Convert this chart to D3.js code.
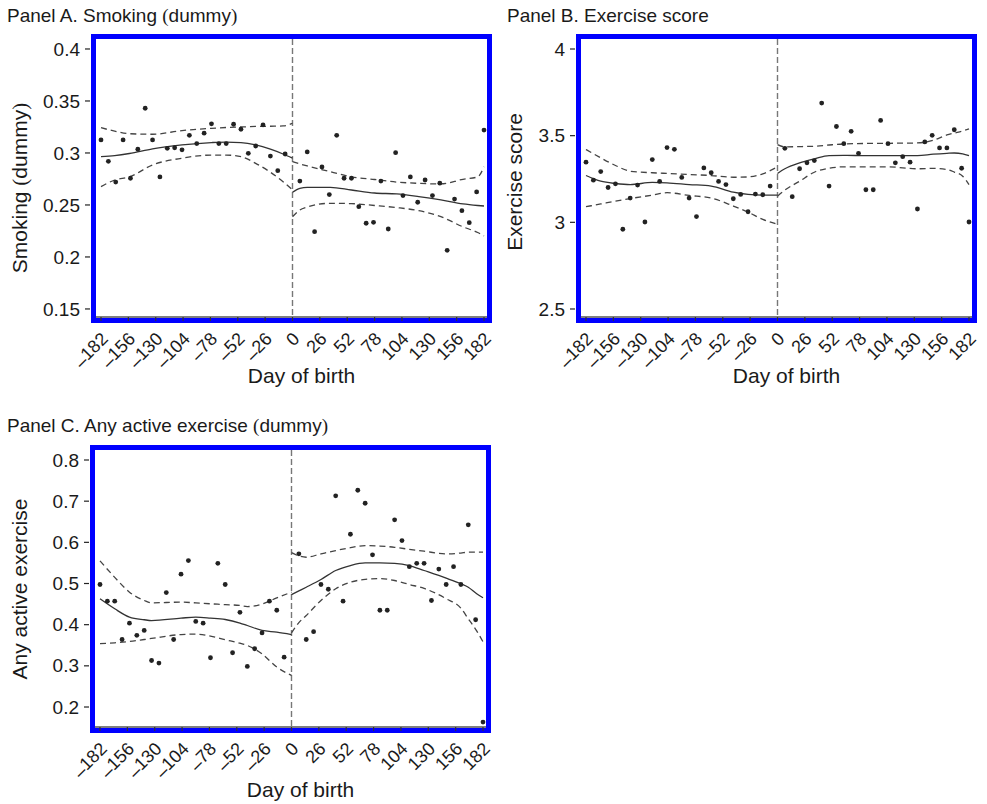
<!DOCTYPE html>
<html>
<head>
<meta charset="utf-8">
<script src="https://cdn.jsdelivr.net/npm/d3@7"></script>
<style>
  body { margin: 0; background: #fff; }
  text { font-family: "Liberation Sans", Arial, Helvetica, sans-serif; fill: #1a1a1a; }
</style>
</head>
<body>
<div id="chart"></div>
<script>
// bins of one week on each side of the cutoff
var daysLeft = [-182, -175, -168, -161, -154, -147, -140, -133, -126, -119, -112, -105, -98,
  -91, -84, -77, -70, -63, -56, -49, -42, -35, -28, -21, -14, -7];
var daysRight = [7, 14, 21, 28, 35, 42, 49, 56, 63, 70, 77, 84, 91,
  98, 105, 112, 119, 126, 133, 140, 147, 154, 161, 168, 175, 182];
var dayTicks = [-182, -156, -130, -104, -78, -52, -26, 0, 26, 52, 78, 104, 130, 156, 182];

// Panel A: smoking
var smokingLeft = [0.3125, 0.292, 0.272, 0.3125, 0.2757, 0.3036, 0.343, 0.3125, 0.277, 0.3045, 0.305, 0.303, 0.317,
  0.309, 0.319, 0.328, 0.309, 0.309, 0.3276, 0.3228, 0.2997, 0.3067, 0.327, 0.297, 0.283, 0.299];
var smokingRight = [0.273, 0.301, 0.2243, 0.2865, 0.260, 0.317, 0.2757, 0.2757, 0.2484, 0.2324, 0.2333, 0.273, 0.2269,
  0.3003, 0.259, 0.277, 0.2526, 0.274, 0.259, 0.271, 0.2064, 0.2557, 0.2445, 0.233, 0.2625, 0.322];
var smokingFitDaysL = [-182, -169, -155, -133, -105, -77, -63, -49, -35, -21, -9, 0];
var smokingFitL = [0.2965, 0.2975, 0.2995, 0.304, 0.3077, 0.310, 0.3105, 0.310, 0.3077, 0.3036, 0.299, 0.295];
var smokingHiL = [0.3243, 0.321, 0.3185, 0.318, 0.3215, 0.3237, 0.3245, 0.325, 0.3255, 0.3257, 0.326, 0.3285];
var smokingLoL = [0.2676, 0.274, 0.277, 0.2885, 0.295, 0.298, 0.298, 0.2965, 0.290, 0.2815, 0.2724, 0.2644];
var smokingFitDaysR = [0, 7, 14, 36, 56, 78, 99, 120, 141, 162, 176, 182];
var smokingFitR = [0.2622, 0.266, 0.267, 0.267, 0.2644, 0.2615, 0.2606, 0.258, 0.2548, 0.251, 0.2495, 0.249];
var smokingHiR = [0.2917, 0.2895, 0.2875, 0.282, 0.277, 0.2745, 0.272, 0.2708, 0.2702, 0.2747, 0.277, 0.2868];
var smokingLoR = [0.2387, 0.2452, 0.248, 0.2516, 0.2513, 0.2495, 0.2475, 0.2445, 0.2387, 0.229, 0.2235, 0.2202];
var smokingTicks = [0.15, 0.2, 0.25, 0.3, 0.35, 0.4];

// Panel B: exercise score
var exerciseLeft = [3.347, 3.243, 3.293, 3.201, 3.222, 2.96, 3.14, 3.215, 3.002, 3.362, 3.236, 3.431, 3.421,
  3.259, 3.14, 3.033, 3.314, 3.286, 3.236, 3.218, 3.136, 3.161, 3.061, 3.163, 3.159, 3.209];
var exerciseRight = [3.427, 3.148, 3.309, 3.343, 3.356, 3.688, 3.209, 3.553, 3.454, 3.525, 3.398, 3.188, 3.188,
  3.588, 3.454, 3.343, 3.379, 3.347, 3.077, 3.464, 3.502, 3.429, 3.429, 3.534, 3.312, 3.002];
var exerciseFitDaysL = [-182, -168, -154, -140, -119, -105, -84, -63, -42, -28, -14, 0];
var exerciseFitL = [3.27, 3.237, 3.224, 3.218, 3.23, 3.228, 3.218, 3.209, 3.174, 3.161, 3.157, 3.157];
var exerciseHiL = [3.42, 3.372, 3.328, 3.295, 3.286, 3.282, 3.276, 3.27, 3.26, 3.262, 3.28, 3.32];
var exerciseLoL = [3.09, 3.106, 3.122, 3.137, 3.157, 3.171, 3.155, 3.14, 3.094, 3.059, 3.017, 2.989];
var exerciseFitDaysR = [0, 7, 21, 35, 49, 63, 84, 105, 133, 148, 161, 168, 176, 182];
var exerciseFitR = [3.282, 3.309, 3.343, 3.366, 3.385, 3.386, 3.385, 3.385, 3.385, 3.393, 3.398, 3.4, 3.395, 3.385];
var exerciseHiR = [3.448, 3.435, 3.437, 3.439, 3.446, 3.452, 3.455, 3.456, 3.458, 3.473, 3.504, 3.515, 3.527, 3.539];
var exerciseLoR = [3.151, 3.186, 3.237, 3.289, 3.312, 3.32, 3.32, 3.32, 3.309, 3.311, 3.305, 3.29, 3.266, 3.218];
var exerciseTicks = [2.5, 3, 3.5, 4];

// Panel C: any active exercise
var activeLeft = [0.4976, 0.457, 0.457, 0.364, 0.4036, 0.374, 0.386, 0.313, 0.3066, 0.478, 0.364, 0.5226, 0.5558,
  0.4078, 0.4036, 0.3197, 0.549, 0.4976, 0.3318, 0.430, 0.2985, 0.3415, 0.380, 0.457, 0.435, 0.321];
var activeRight = [0.572, 0.364, 0.383, 0.4976, 0.486, 0.713, 0.457, 0.6197, 0.7265, 0.695, 0.5696, 0.435, 0.435,
  0.6546, 0.6044, 0.541, 0.549, 0.549, 0.4587, 0.535, 0.4976, 0.541, 0.4976, 0.6425, 0.412, 0.1634];
var activeFitDaysL = [-182, -168, -154, -140, -133, -105, -91, -77, -63, -49, -42, -28, -14, 0];
var activeFitL = [0.4628, 0.4386, 0.4183, 0.412, 0.410, 0.4158, 0.4183, 0.416, 0.4126, 0.404, 0.398, 0.386, 0.3819, 0.376];
var activeHiL = [0.555, 0.515, 0.479, 0.4587, 0.453, 0.4547, 0.453, 0.4507, 0.4487, 0.4466, 0.444, 0.450, 0.465, 0.479];
var activeLoL = [0.354, 0.356, 0.3592, 0.364, 0.3665, 0.376, 0.377, 0.372, 0.3633, 0.355, 0.3495, 0.329, 0.297, 0.2767];
var activeFitDaysR = [0, 7, 14, 28, 42, 56, 70, 84, 98, 112, 126, 147, 161, 168, 176, 182];
var activeFitR = [0.473, 0.482, 0.491, 0.5097, 0.5316, 0.5437, 0.550, 0.550, 0.549, 0.5437, 0.5316, 0.5129, 0.4992, 0.491, 0.475, 0.4653];
var activeHiR = [0.575, 0.567, 0.5638, 0.572, 0.58, 0.587, 0.5922, 0.591, 0.588, 0.583, 0.5784, 0.572, 0.574, 0.576, 0.576, 0.576];
var activeLoR = [0.38, 0.405, 0.4223, 0.4587, 0.4871, 0.5032, 0.510, 0.512, 0.5073, 0.4976, 0.488, 0.463, 0.44, 0.4143, 0.385, 0.3584];
var activeTicks = [0.2, 0.3, 0.4, 0.5, 0.6, 0.7, 0.8];

(function () {

  var w = 987,
    h = 804,
    svg,
    blue = "#0000ff",
    serif = "'Liberation Serif', 'Times New Roman', serif";

  // one entry per panel, everything layout related lives here
  var panels = [
    { title: "Panel A. Smoking ", paren: "dummy", ylabel: "Smoking ", yparen: "dummy",
      tx: 7, ty: 22, left: 96, top: 39, bottom: 318, labelX: 20, labelY: 188, xlabY: 383,
      yDomain: [0.1413, 0.4096], yTicks: smokingTicks,
      ptsL: smokingLeft, ptsR: smokingRight,
      fitDaysL: smokingFitDaysL, fitL: smokingFitL, hiL: smokingHiL, loL: smokingLoL,
      fitDaysR: smokingFitDaysR, fitR: smokingFitR, hiR: smokingHiR, loR: smokingLoR },
    { title: "Panel B. Exercise score", paren: null, ylabel: "Exercise score", yparen: null,
      tx: 507, ty: 22, left: 581, top: 39, bottom: 318, labelX: 515, labelY: 182, xlabY: 383,
      yDomain: [2.448, 4.0577], yTicks: exerciseTicks,
      ptsL: exerciseLeft, ptsR: exerciseRight,
      fitDaysL: exerciseFitDaysL, fitL: exerciseFitL, hiL: exerciseHiL, loL: exerciseLoL,
      fitDaysR: exerciseFitDaysR, fitR: exerciseFitR, hiR: exerciseHiR, loR: exerciseLoR },
    { title: "Panel C. Any active exercise ", paren: "dummy", ylabel: "Any active exercise", yparen: null,
      tx: 7, ty: 432, left: 95, top: 450, bottom: 728, labelX: 20, labelY: 589, xlabY: 797,
      yDomain: [0.149, 0.8243], yTicks: activeTicks,
      ptsL: activeLeft, ptsR: activeRight,
      fitDaysL: activeFitDaysL, fitL: activeFitL, hiL: activeHiL, loL: activeLoL,
      fitDaysR: activeFitDaysR, fitR: activeFitR, hiR: activeHiR, loR: activeLoR }
  ];

  function createSvg() {
    svg = d3.select("#chart")
      .append("svg")
      .attr("width", w)
      .attr("height", h);
  }

  // parentheses in the labels are set in a serif face like in the journal figure
  function addLabel(sel, main, paren) {
    sel.append("tspan").text(main);
    if (paren) {
      sel.append("tspan").attr("font-family", serif).text("(");
      sel.append("tspan").text(paren);
      sel.append("tspan").attr("font-family", serif).text(")");
    }
  }

  function zip(days, vals) {
    return days.map(function (d, i) { return { day: d, v: vals[i] }; });
  }

  // negative ticks get a long dash sitting a bit low, as in the original
  function addDayLabel(sel, d) {
    if (d < 0) {
      sel.append("tspan").attr("dy", "0.12em").text("\u2013");
      sel.append("tspan").attr("dy", "-0.12em").text(Math.abs(d));
    } else {
      sel.text(d);
    }
  }

  function drawPanel(p) {
    var g = svg.append("g");
    var right = p.left + 391;
    var x = d3.scaleLinear().domain([-182, 182]).range([p.left + 5, p.left + 388]);
    var y = d3.scaleLinear().domain(p.yDomain).range([p.bottom, p.top]);

    // titles
    addLabel(g.append("text").attr("x", p.tx).attr("y", p.ty).style("font-size", "19px"), p.title, p.paren);

    var yl = g.append("text")
      .attr("transform", "translate(" + p.labelX + "," + p.labelY + ") rotate(-90)")
      .attr("text-anchor", "middle")
      .attr("dy", "0.35em")
      .style("font-size", "21px");
    addLabel(yl, p.ylabel, p.yparen);

    g.append("text")
      .attr("x", (p.left + right) / 2 + 10)
      .attr("y", p.xlabY)
      .attr("text-anchor", "middle")
      .style("font-size", "21px")
      .text("Day of birth");

    // y ticks sit outside the blue frame
    var yt = g.selectAll(".ytick").data(p.yTicks).enter().append("g")
      .attr("transform", function (d) { return "translate(0," + y(d) + ")"; });
    yt.append("line")
      .attr("x1", p.left - 11).attr("x2", p.left - 6)
      .attr("stroke", "#222").attr("stroke-width", 1.2);
    yt.append("text")
      .attr("x", p.left - 16)
      .attr("dy", "0.35em")
      .attr("text-anchor", "end")
      .style("font-size", "19px")
      .text(function (d) { return d3.format("~g")(d); });

    // bottom axis line
    g.append("line")
      .attr("x1", p.left).attr("x2", right)
      .attr("y1", p.bottom - 1).attr("y2", p.bottom - 1)
      .attr("stroke", "#555").attr("stroke-width", 1.5);

    // cutoff line
    g.append("line")
      .attr("x1", x(0)).attr("x2", x(0))
      .attr("y1", p.top).attr("y2", p.bottom - 1)
      .attr("stroke", "#777").attr("stroke-width", 1.4)
      .attr("stroke-dasharray", "6,3");

    var line = d3.line()
      .x(function (d) { return x(d.day); })
      .y(function (d) { return y(d.v); })
      .curve(d3.curveMonotoneX);

    [[p.fitDaysL, p.fitL, null], [p.fitDaysL, p.hiL, "6,4"], [p.fitDaysL, p.loL, "6,4"],
     [p.fitDaysR, p.fitR, null], [p.fitDaysR, p.hiR, "6,4"], [p.fitDaysR, p.loR, "6,4"]]
      .forEach(function (s) {
        g.append("path")
          .datum(zip(s[0], s[1]))
          .attr("d", line)
          .attr("fill", "none")
          .attr("stroke", s[2] ? "#444" : "#333")
          .attr("stroke-width", 1.3)
          .attr("stroke-dasharray", s[2]);
      });

    var pts = zip(daysLeft, p.ptsL).concat(zip(daysRight, p.ptsR));
    g.selectAll(".dot").data(pts).enter().append("circle")
      .attr("cx", function (d) { return x(d.day); })
      .attr("cy", function (d) { return y(d.v); })
      .attr("r", 2.4)
      .attr("fill", "#222");

    // blue frame
    g.append("rect")
      .attr("x", p.left - 2.5).attr("y", p.top - 2.5)
      .attr("width", right - p.left + 5).attr("height", p.bottom - p.top + 5)
      .attr("fill", "none")
      .attr("stroke", blue)
      .attr("stroke-width", 5);

    // x ticks and rotated labels
    var xt = g.selectAll(".xtick").data(dayTicks).enter().append("g")
      .attr("transform", function (d) { return "translate(" + x(d) + "," + p.bottom + ")"; });
    xt.append("line")
      .attr("y1", -1).attr("y2", 3)
      .attr("stroke", "#333").attr("stroke-width", 1.2);
    xt.append("text")
      .attr("transform", "translate(8,22) rotate(-45)")
      .attr("text-anchor", "end")
      .style("font-size", "18px")
      .each(function (d) { addDayLabel(d3.select(this), d); });
  }

  createSvg();
  panels.forEach(drawPanel);
})();
</script>
</body>
</html>
